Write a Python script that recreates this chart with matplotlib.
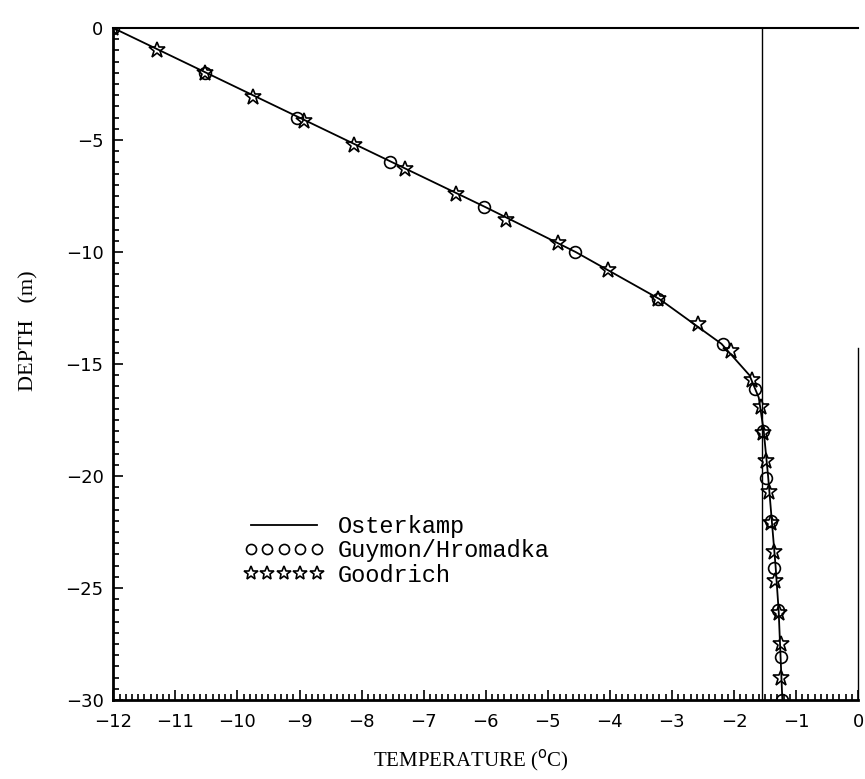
import numpy as np
import matplotlib
matplotlib.use('Agg')
import matplotlib.pyplot as plt
from matplotlib.ticker import MultipleLocator

# Depth (m) / temperature (deg C) profiles
osterkamp_t = [-12.0, -10.5, -9.0, -7.5, -6.0, -4.55, -3.2, -2.2, -1.75, -1.6,
               -1.52, -1.45, -1.39, -1.33, -1.28, -1.25, -1.22]
osterkamp_z = [0.0, -2.0, -4.0, -6.0, -8.0, -10.0, -12.1, -14.1, -15.5, -16.5,
               -18.0, -20.0, -22.0, -24.0, -26.0, -28.0, -30.0]

guymon_t = [-12.0, -10.53, -9.04, -7.54, -6.03, -4.56, -3.23, -2.18, -1.66,
            -1.53, -1.48, -1.40, -1.35, -1.29, -1.25, -1.23]
guymon_z = [0.0, -2.0, -4.0, -6.0, -8.0, -10.0, -12.1, -14.1, -16.1,
            -18.0, -20.1, -22.0, -24.1, -26.0, -28.1, -30.0]

goodrich_t = [-12.0, -11.3, -10.53, -9.75, -8.93, -8.13, -7.3, -6.48, -5.67,
              -4.84, -4.03, -3.23, -2.58, -2.04, -1.71, -1.57, -1.53, -1.49,
              -1.44, -1.40, -1.35, -1.34, -1.28, -1.25, -1.24]
goodrich_z = [0.0, -1.0, -2.0, -3.1, -4.15, -5.2, -6.3, -7.4, -8.55,
              -9.6, -10.8, -12.1, -13.2, -14.4, -15.7, -16.9, -18.1, -19.35,
              -20.7, -22.1, -23.4, -24.7, -26.1, -27.5, -29.0]

# thin vertical reference line
ref_t = -1.55

fig = plt.figure(figsize=(8.65, 7.79), dpi=100)
ax = fig.add_axes([0.131, 0.1014, 0.861, 0.8626])

ax.axvline(ref_t, color='k', lw=1.0)
ax.plot(osterkamp_t, osterkamp_z, 'k-', lw=1.3, label='Osterkamp')
ax.plot(guymon_t, guymon_z, 'o', mfc='none', mec='k', mew=1.2, ms=8.5,
        label='Guymon/Hromadka')
ax.plot(goodrich_t, goodrich_z, '*', mfc='none', mec='k', mew=1.2, ms=12,
        label='Goodrich')

ax.set_xlim(-12, 0)
ax.set_ylim(-30, 0)
ax.xaxis.set_major_locator(MultipleLocator(1))
ax.xaxis.set_minor_locator(MultipleLocator(0.1))
ax.yaxis.set_major_locator(MultipleLocator(5))
ax.yaxis.set_minor_locator(MultipleLocator(0.5))
ax.tick_params(which='both', direction='in', top=False, right=False,
               width=1.2, labelsize=13)
ax.tick_params(which='major', length=7)
ax.tick_params(which='minor', length=4)
ax.tick_params(axis='x', pad=9)
ax.tick_params(axis='y', pad=7)

for s in ['left', 'bottom']:
    ax.spines[s].set_linewidth(2.0)
ax.spines['top'].set_linewidth(1.5)
ax.spines['right'].set_linewidth(1.0)
ax.spines['right'].set_bounds(-30, -14.3)

ax.set_xlabel(r'TEMPERATURE ($^\mathrm{o}$C)', family='Liberation Serif', fontsize=15)
ax.set_ylabel('DEPTH   (m)', family='Liberation Serif', fontsize=16)
ax.yaxis.set_label_coords(-0.1, 0.55)
ax.xaxis.set_label_coords(0.48, -0.072)

ax.legend(loc='upper left', bbox_to_anchor=(0.175, 0.275), frameon=False,
          numpoints=5, handlelength=3.4, handletextpad=0.6, labelspacing=0.05,
          borderpad=0, borderaxespad=0, markerscale=0.85,
          prop={'family': 'Liberation Mono', 'size': 17})

fig.savefig('out.png', dpi=100)
